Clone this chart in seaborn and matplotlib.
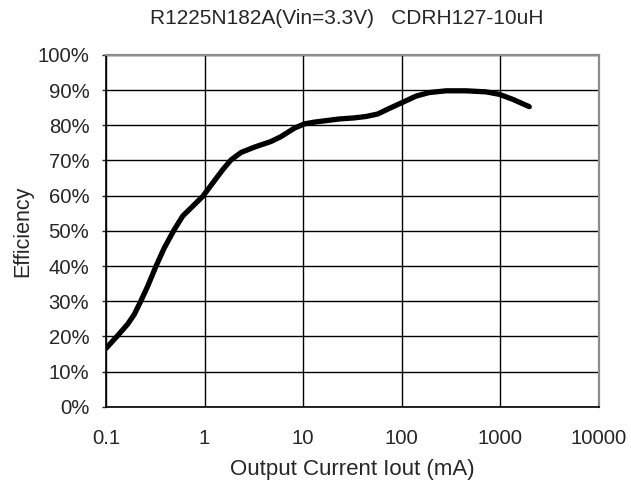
import matplotlib
matplotlib.use("Agg")
import matplotlib.pyplot as plt
import seaborn as sns
import pandas as pd
from matplotlib.ticker import FixedLocator, NullLocator

# values
current_ma = [0.1, 0.131, 0.166, 0.194, 0.226, 0.265, 0.322, 0.391, 0.494, 0.600,
              0.758, 0.958, 1.21, 1.53, 1.86, 2.35, 3.21, 4.73, 5.98, 8.17, 10.3,
              13.0, 23.3, 33, 43.5, 57, 75, 100, 140, 190, 282, 447, 716, 977,
              1334, 1968]
efficiency = [16.6, 20.2, 23.5, 26.3, 30.1, 34.3, 40.0, 45.2, 50.4, 54.2,
              57.0, 59.8, 63.6, 67.4, 70.2, 72.3, 73.8, 75.4, 76.8, 79.2, 80.4,
              80.9, 81.8, 82.1, 82.5, 83.2, 84.8, 86.4, 88.3, 89.3, 89.8, 89.8, 89.5, 88.8,
              87.4, 85.3]

x_ticks = [0.1, 1, 10, 100, 1000, 10000]
x_labels = ["0.1", "1", "10", "100", "1000", "10000"]
y_ticks = [0, 10, 20, 30, 40, 50, 60, 70, 80, 90, 100]

df = pd.DataFrame({"Iout": current_ma, "Eff": efficiency})

sns.set_style("white")
plt.rcParams['font.family'] = ['Liberation Sans', 'DejaVu Sans']

fig = plt.figure(figsize=(6.31, 4.86), dpi=100)
ax = fig.add_axes([0.168, 0.163, 0.781, 0.724])

sns.lineplot(data=df, x="Iout", y="Eff", color="black", linewidth=3.8, ax=ax,
             sort=False, solid_joinstyle="round")

ax.set_xscale("log")
ax.set_xlim(0.1, 10000)
ax.set_ylim(0, 100)
ax.xaxis.set_major_locator(FixedLocator(x_ticks))
ax.xaxis.set_minor_locator(NullLocator())
ax.set_xticklabels(x_labels)
ax.set_yticks(y_ticks)
ax.set_yticklabels([f"{v}%" for v in y_ticks])

ax.grid(True, color="black", linewidth=1.0)
for side in ["top", "right"]:
    ax.spines[side].set_color("#8c8c8c")
    ax.spines[side].set_linewidth(1.6)
for side in ["left", "bottom"]:
    ax.spines[side].set_color("black")
    ax.spines[side].set_linewidth(1.2)

ax.tick_params(axis="y", left=True, length=3, width=1, labelsize=14.6, pad=9)
ax.tick_params(axis="x", bottom=False, length=0, labelsize=14.6, pad=16)

ax.set_xlabel("Output Current Iout (mA)", fontsize=16, labelpad=8)
ax.set_ylabel("Efficiency", fontsize=15.5, labelpad=3)
ax.set_title("R1225N182A(Vin=3.3V)   CDRH127-10uH", fontsize=15, pad=22, x=0.488)

fig.savefig("out.png", dpi=100)
